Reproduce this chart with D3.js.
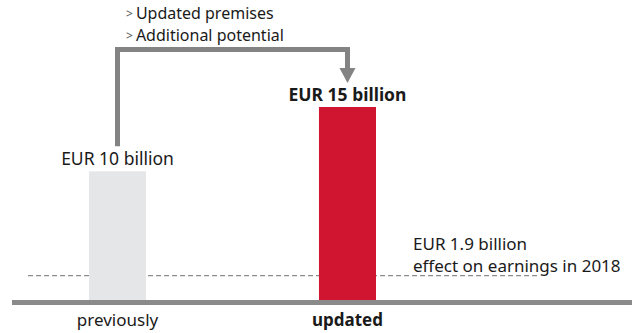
<!DOCTYPE html>
<html>
<head>
<meta charset="utf-8">
<script src="https://cdn.jsdelivr.net/npm/d3@7"></script>
<style>
  html, body { margin: 0; padding: 0; background: #ffffff; }
  svg { display: block; font-family: "Noto Sans", "Open Sans", sans-serif; }
</style>
</head>
<body>
<svg id="chart" width="641" height="333"></svg>
<script>
// Bar data: savings target, EUR billion
const categories = ["previously", "updated"];
const values = [10, 15];
const valueLabels = ["EUR 10 billion", "EUR 15 billion"];
const barColors = ["#e5e6e8", "#cf1530"];
const boldCategory = [false, true];

// Reference line: effect on earnings
const referenceValue = 1.9;
const referenceLabel = ["EUR 1.9 billion", "effect on earnings in 2018"];

// Reasons listed above the connector
const reasons = ["Updated premises", "Additional potential"];

const svg = d3.select("#chart");

const x = d3.scaleBand()
  .domain(categories)
  .range([0, 465])
  .paddingInner(0.752)
  .paddingOuter(0.387);

const y = d3.scaleLinear()
  .domain([0, 15])
  .range([300, 107]);

// Dashed reference line
svg.append("line")
  .attr("x1", 28).attr("x2", 537)
  .attr("y1", y(referenceValue)).attr("y2", y(referenceValue))
  .attr("stroke", "#8d8d8d")
  .attr("stroke-width", 1.2)
  .attr("stroke-dasharray", "5,3");

// Bars
svg.selectAll("rect.bar")
  .data(categories)
  .join("rect")
  .attr("class", "bar")
  .attr("x", d => x(d))
  .attr("width", x.bandwidth())
  .attr("y", (d, i) => y(values[i]))
  .attr("height", (d, i) => y(0) - y(values[i]))
  .attr("fill", (d, i) => barColors[i]);

// Baseline axis
svg.append("rect")
  .attr("x", 12).attr("width", 620)
  .attr("y", y(0)).attr("height", 5)
  .attr("fill", "#8a8a8a");

// Category labels
svg.selectAll("text.cat")
  .data(categories)
  .join("text")
  .attr("class", "cat")
  .attr("x", d => x(d) + x.bandwidth() / 2)
  .attr("y", 326)
  .attr("text-anchor", "middle")
  .attr("font-size", 17)
  .attr("font-weight", (d, i) => boldCategory[i] ? "bold" : "normal")
  .attr("fill", "#1a1a1a")
  .text(d => d);

// Value labels
svg.selectAll("text.val")
  .data(categories)
  .join("text")
  .attr("class", "val")
  .attr("x", d => x(d) + x.bandwidth() / 2)
  .attr("y", (d, i) => y(values[i]) - 6)
  .attr("text-anchor", "middle")
  .attr("font-size", 17.5)
  .attr("font-weight", (d, i) => boldCategory[i] ? "bold" : "normal")
  .attr("fill", "#1a1a1a")
  .text((d, i) => valueLabels[i]);

// Connector arrow from previous to updated value
const x0 = x(categories[0]) + x.bandwidth() / 2;
const x1 = x(categories[1]) + x.bandwidth() / 2;
const topY = 49.5;
const headTop = 68;
const headTip = 83;
svg.append("path")
  .attr("d", `M${x0},${y(values[0]) - 25} V${topY} H${x1} V${headTop}`)
  .attr("fill", "none")
  .attr("stroke", "#838383")
  .attr("stroke-width", 5)
  .attr("stroke-linejoin", "miter")
  .attr("stroke-linecap", "butt");
svg.append("path")
  .attr("d", `M${x1 - 8},${headTop} L${x1 + 8},${headTop} L${x1},${headTip} Z`)
  .attr("fill", "#838383");

// Reasons list
const reasonG = svg.append("g").attr("transform", "translate(126,0)");
reasons.forEach((r, i) => {
  const t = reasonG.append("text")
    .attr("x", 0)
    .attr("y", 19 + i * 22)
    .attr("font-size", 16)
    .attr("fill", "#1a1a1a");
  t.append("tspan").attr("font-size", 12).attr("fill", "#555").attr("dy", -1).text(">");
  t.append("tspan").attr("dx", 3).attr("dy", 1).text(r);
});

// Reference annotation
referenceLabel.forEach((l, i) => {
  svg.append("text")
    .attr("x", 413)
    .attr("y", 250 + i * 22)
    .attr("font-size", 17)
    .attr("fill", "#1a1a1a")
    .text(l);
});
</script>
</body>
</html>
